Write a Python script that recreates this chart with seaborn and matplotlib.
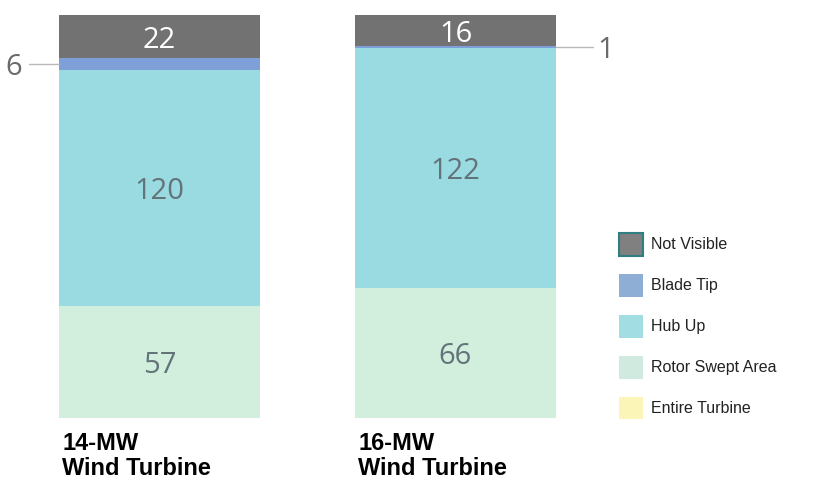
import matplotlib
matplotlib.use("Agg")
import matplotlib.pyplot as plt
from matplotlib.patches import Patch
import pandas as pd
import seaborn as sns

# Datos
turbines = ["14-MW\nWind Turbine", "16-MW\nWind Turbine"]
rotor_swept = [57, 66]
hub_up = [120, 122]
blade_tip = [6, 1]
not_visible = [22, 16]
entire_turbine = [0, 0]

segments = ["Entire Turbine", "Rotor Swept Area", "Hub Up", "Blade Tip", "Not Visible"]
values = {
    "Entire Turbine": entire_turbine,
    "Rotor Swept Area": rotor_swept,
    "Hub Up": hub_up,
    "Blade Tip": blade_tip,
    "Not Visible": not_visible,
}
bar_colors = {
    "Entire Turbine": "#fbf6b8",
    "Rotor Swept Area": "#d2eedd",
    "Hub Up": "#9adbe2",
    "Blade Tip": "#7f9fd8",
    "Not Visible": "#727272",
}
legend_colors = {
    "Not Visible": "#808080",
    "Blade Tip": "#8eaed6",
    "Hub Up": "#a2dde4",
    "Rotor Swept Area": "#d0eadf",
    "Entire Turbine": "#fbf6b8",
}

# Tabla larga con acumulados
rows = []
for i, t in enumerate(turbines):
    base = 0
    for s in segments:
        v = values[s][i]
        rows.append({"turbine": t, "segment": s, "value": v,
                     "bottom": base, "top": base + v})
        base += v
df = pd.DataFrame(rows)

sns.set_theme(style="white")
plt.rcParams["font.family"] = ["Liberation Sans", "DejaVu Sans"]

fig = plt.figure(figsize=(8.17, 4.98), dpi=100)
ax = fig.add_axes([0, 80 / 498, 600 / 817, 403 / 498])

width = 0.68
# dibujar de arriba hacia abajo (acumulados)
for s in segments[::-1]:
    sub = df[df["segment"] == s]
    sns.barplot(x="turbine", y="top", data=sub, color=bar_colors[s],
                width=width, saturation=1, ax=ax, linewidth=0)

ax.set_xlim(-0.538, 1.488)
ax.set_ylim(0, 205)
ax.axis("off")

num_font = dict(family=["Open Sans", "DejaVu Sans"], fontsize=21)
for _, r in df.iterrows():
    i = turbines.index(r["turbine"])
    if r["value"] <= 0:
        continue
    mid = (r["bottom"] + r["top"]) / 2
    if r["value"] >= 10:
        col = "white" if r["segment"] == "Not Visible" else "#63737a"
        ax.text(i, mid, str(r["value"]), ha="center", va="center_baseline",
                color=col, **num_font)
    else:
        # etiqueta exterior con línea guía
        if i == 0:
            x0 = i - width / 2
            ax.plot([x0 - 0.1, x0], [mid, mid], color="#b8b8b8", lw=1, clip_on=False)
            ax.text(x0 - 0.125, mid, str(r["value"]), ha="right", va="center_baseline",
                    color="#6a6a6a", **num_font)
        else:
            x0 = i + width / 2
            ax.plot([x0, x0 + 0.125], [mid, mid], color="#b8b8b8", lw=1, clip_on=False)
            ax.text(x0 + 0.14, mid, str(r["value"]), ha="left", va="center_baseline",
                    color="#6a6a6a", **num_font)

# etiquetas de categoría
for i, t in enumerate(turbines):
    ax.text(i - width / 2 + 0.012, -7.2, t, ha="left", va="top",
            fontsize=17, fontweight="bold", color="black",
            linespacing=1.1, clip_on=False)

handles = [Patch(facecolor=legend_colors[s],
                 edgecolor="#2f7f82" if s == "Not Visible" else legend_colors[s],
                 linewidth=1.5 if s == "Not Visible" else 0, label=s)
           for s in segments[::-1]]
fig.legend(handles=handles, loc="upper left",
           bbox_to_anchor=(619 / 817, 1 - 233 / 498),
           frameon=False, fontsize=11.5, handlelength=1.5, handleheight=1.8,
           handletextpad=0.5, labelspacing=1.15, borderpad=0, borderaxespad=0,
           labelcolor="#222222")

fig.savefig("out.png", dpi=100)
